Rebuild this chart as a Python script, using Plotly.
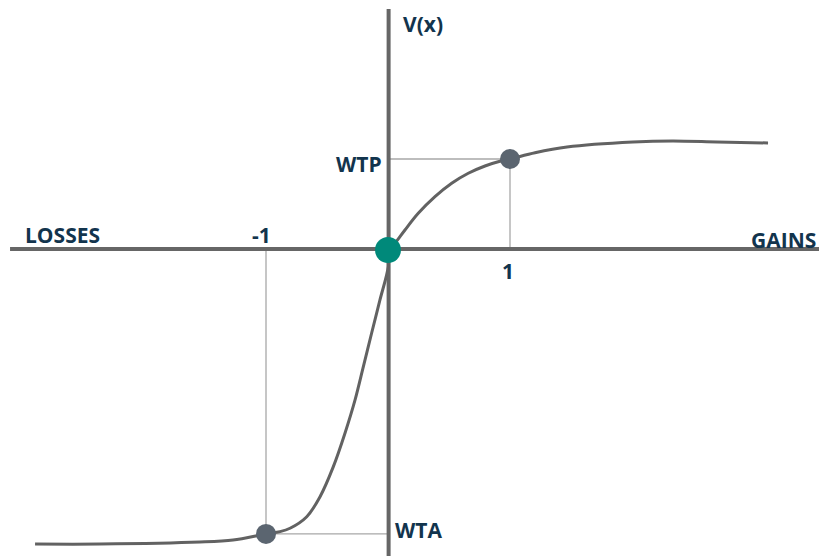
import plotly.graph_objects as go

# ---- data (value-function units: 1 on x = one unit gain/loss, WTP = 1) ----
gain_x = [0.0, 0.057, 0.139, 0.248, 0.385, 0.522, 0.658, 0.795, 0.932, 1.0, 1.205, 1.467, 2.008, 2.336, 2.697, 3.115]
gain_v = [0.0, 0.074, 0.220, 0.403, 0.586, 0.733, 0.843, 0.923, 0.981, 1.0, 1.069, 1.132, 1.187, 1.198, 1.187, 1.176]

loss_x = [0.0, 0.002, -0.066, -0.134, -0.202, -0.270, -0.352, -0.448, -0.557, -0.666, -0.803, -0.885,
          -1.0, -1.270, -1.541, -2.361, -2.893]
loss_v = [0.0, -0.184, -0.549, -0.912, -1.282, -1.648, -2.011, -2.381, -2.711, -2.931, -3.058, -3.095,
          -3.12, -3.187, -3.209, -3.231, -3.231]

WTP = 1.0
WTA = -3.12
tick_x = [-1, 1]
tick_labels = ["-1", "1"]

W, H = 819, 556
X_RANGE = [-3.1803, 3.5328]
Y_RANGE = [-3.3626, 2.7473]

AX = "#666666"
CURVE = "#626262"
GUIDE = "#a8a8a8"
TXT = "#12344d"
FONT = "Open Sans"

fig = go.Figure()

# guide lines
fig.add_trace(go.Scatter(x=[0, tick_x[1], tick_x[1]], y=[WTP, WTP, 0], mode="lines",
                         line=dict(color=GUIDE, width=1.3), hoverinfo="skip", showlegend=False))
fig.add_trace(go.Scatter(x=[tick_x[0], tick_x[0], 0], y=[0, WTA, WTA], mode="lines",
                         line=dict(color=GUIDE, width=1.3), hoverinfo="skip", showlegend=False))

# axes
fig.add_trace(go.Scatter(x=[-3.098, 3.54], y=[0.01, 0.01], mode="lines",
                         line=dict(color=AX, width=4), hoverinfo="skip", showlegend=False))
fig.add_trace(go.Scatter(x=[0.005, 0.005], y=[2.648, -3.37], mode="lines",
                         line=dict(color=AX, width=4), hoverinfo="skip", showlegend=False))

# value function
fig.add_trace(go.Scatter(x=loss_x[::-1] + gain_x[1:], y=loss_v[::-1] + gain_v[1:], mode="lines",
                         line=dict(color=CURVE, width=3, shape="spline", smoothing=0.9),
                         hoverinfo="skip", showlegend=False))

# points
fig.add_trace(go.Scatter(x=[tick_x[1], tick_x[0]], y=[WTP, WTA], mode="markers",
                         marker=dict(size=20, color="#5b6570"), hoverinfo="skip", showlegend=False))
fig.add_trace(go.Scatter(x=[0], y=[0], mode="markers",
                         marker=dict(size=26, color="#00897a"), hoverinfo="skip", showlegend=False))

def ann(text, px, py, xanchor="center"):
    fig.add_annotation(x=px / W, y=1 - py / H, xref="paper", yref="paper",
                       text="<b>%s</b>" % text, showarrow=False, xanchor=xanchor, yanchor="middle",
                       font=dict(family=FONT, size=21, color=TXT))

ann("V(x)", 401, 24, "left")
ann("WTP", 384, 164, "right")
ann("LOSSES", 23, 235, "left")
ann(tick_labels[0], 261, 235)
ann(tick_labels[1], 508, 271)
ann("GAINS", 818, 240, "right")
ann("WTA", 393, 530, "left")

fig.update_layout(width=W, height=H, autosize=False,
                  margin=dict(l=0, r=0, t=0, b=0, pad=0),
                  paper_bgcolor="white", plot_bgcolor="white",
                  xaxis=dict(range=X_RANGE, visible=False, fixedrange=True),
                  yaxis=dict(range=Y_RANGE, visible=False, fixedrange=True),
                  showlegend=False)

fig.write_html("out.html", config={"displayModeBar": False},
               post_script="document.body.style.margin='0';document.body.style.overflow='hidden';")
